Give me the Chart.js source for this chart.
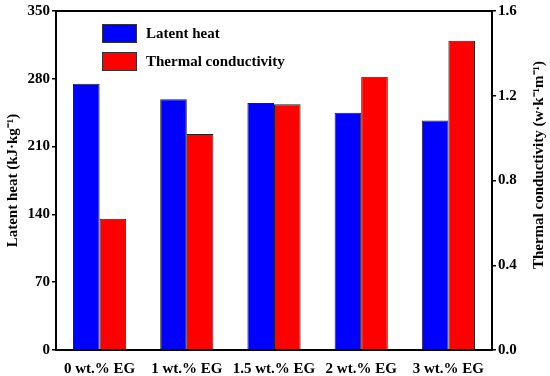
<!DOCTYPE html>
<html>
<head>
<meta charset="utf-8">
<script src="https://cdn.jsdelivr.net/npm/chart.js@4"></script>
<style>
  html, body { margin: 0; padding: 0; background: #fff; }
  #wrap { width: 550px; height: 376px; }
</style>
</head>
<body>
<div id="wrap"><canvas id="chart"></canvas></div>
<script>
// data
const categories = ['0 wt.% EG', '1 wt.% EG', '1.5 wt.% EG', '2 wt.% EG', '3 wt.% EG'];
const latentHeat = [275, 259, 255, 245, 237];            // kJ/kg
const thermalConductivity = [0.62, 1.02, 1.16, 1.29, 1.46]; // w/(k m)
const leftTicks = [0, 70, 140, 210, 280, 350];
const rightTicks = [0.0, 0.4, 0.8, 1.2, 1.6];
const rightTitle = 'Thermal conductivity (w·k⁻¹m⁻¹)';

const fontFamily = '"Liberation Serif", "Times New Roman", serif';
const boldFont = { family: fontFamily, size: 15, weight: 'bold' };

// frame around plot, legend inside the plot, right title reading upwards
const framePlugin = {
  id: 'frame',
  afterDraw(chart) {
    const { ctx, chartArea: a } = chart;
    ctx.save();
    ctx.strokeStyle = '#000';
    ctx.lineWidth = 2;
    ctx.strokeRect(a.left, a.top, a.right - a.left, a.bottom - a.top);

    // legend
    const x0 = a.left + 46, y0 = a.top + 13;
    chart.data.datasets.forEach((ds, i) => {
      const y = y0 + i * 28;
      ctx.fillStyle = ds.backgroundColor;
      ctx.fillRect(x0, y, 35, 19);
      ctx.lineWidth = 1;
      ctx.strokeStyle = '#333';
      ctx.strokeRect(x0 + 0.5, y + 0.5, 34, 18);
      ctx.fillStyle = '#000';
      ctx.font = 'bold 15px ' + fontFamily;
      ctx.textBaseline = 'middle';
      ctx.textAlign = 'left';
      ctx.fillText(ds.label, x0 + 44, y + 10);
    });

    // right axis title
    ctx.translate(539, 165);
    ctx.rotate(-Math.PI / 2);
    ctx.textAlign = 'center';
    ctx.textBaseline = 'middle';
    ctx.fillText(rightTitle, 0, 0);
    ctx.restore();
  }
};

new Chart(document.getElementById('chart'), {
  type: 'bar',
  data: {
    labels: categories,
    datasets: [
      {
        label: 'Latent heat',
        data: latentHeat,
        yAxisID: 'y',
        backgroundColor: '#0000ff',
        borderColor: '#222',
        borderWidth: 1
      },
      {
        label: 'Thermal conductivity',
        data: thermalConductivity,
        yAxisID: 'y1',
        backgroundColor: '#ff0000',
        borderColor: '#222',
        borderWidth: 1
      }
    ]
  },
  options: {
    responsive: true,
    maintainAspectRatio: false,
    animation: false,
    layout: { padding: { top: 10, right: 0, left: 0, bottom: 0 } },
    datasets: { bar: { barPercentage: 1, categoryPercentage: 0.61 } },
    plugins: { legend: { display: false }, tooltip: { enabled: false } },
    scales: {
      x: {
        grid: { display: false },
        border: { display: false },
        ticks: { color: '#000', font: boldFont, padding: 2, maxRotation: 0 },
        afterFit(s) { s.height = 26; }
      },
      y: {
        position: 'left',
        min: 0, max: 350,
        afterBuildTicks(s) { s.ticks = leftTicks.map(v => ({ value: v })); },
        grid: { drawOnChartArea: false, tickLength: 4, color: '#000', lineWidth: 1.5 },
        border: { display: false },
        ticks: { color: '#000', font: boldFont, padding: 2 },
        title: { display: true, text: 'Latent heat (kJ·kg⁻¹)', color: '#000', font: boldFont, padding: { top: 4, bottom: 0 } },
        afterFit(s) { s.width = 56; }
      },
      y1: {
        position: 'right',
        min: 0, max: 1.6,
        afterBuildTicks(s) { s.ticks = rightTicks.map(v => ({ value: v })); },
        grid: { drawOnChartArea: false, tickLength: 4, color: '#000', lineWidth: 1.5 },
        border: { display: false },
        ticks: { color: '#000', font: boldFont, padding: 2, callback: v => v.toFixed(1) },
        afterFit(s) { s.width = 58; }
      }
    }
  },
  plugins: [framePlugin]
});
</script>
</body>
</html>
